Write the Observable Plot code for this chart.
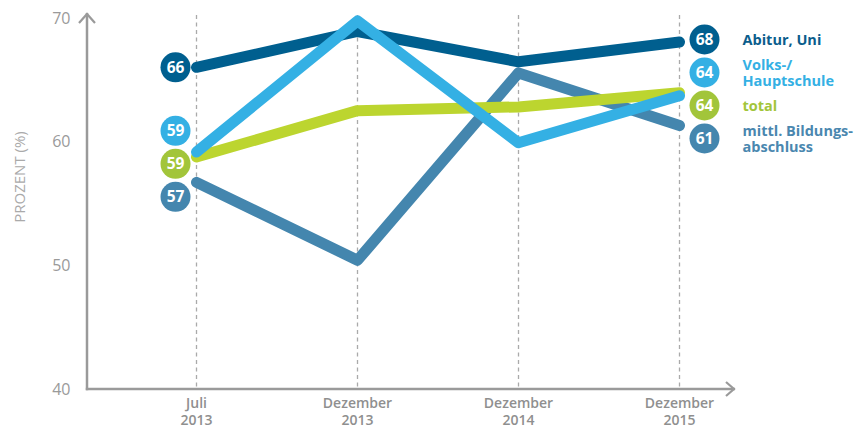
<!DOCTYPE html>
<html>
<head>
<meta charset="utf-8">
<script src="https://cdn.jsdelivr.net/npm/d3@7"></script>
<script src="https://cdn.jsdelivr.net/npm/@observablehq/plot@0.6"></script>
<style>
  html, body { margin: 0; padding: 0; background: #fff; }
  #chart svg { font-family: "Open Sans", sans-serif; overflow: visible; }
</style>
</head>
<body>
<div id="chart"></div>
<script>
// ---- data ----
const periods = ["Juli\n2013", "Dezember\n2013", "Dezember\n2014", "Dezember\n2015"];
const seriesNames = ["Abitur, Uni", "Volks-/\nHauptschule", "total", "mittl. Bildungs-\nabschluss"];
const abitur = [66.05, 68.95, 66.5, 68.1];
const volks  = [59.2, 69.8, 59.95, 63.75];
const total  = [58.8, 62.55, 62.85, 64.0];
const mittl  = [56.75, 50.45, 65.6, 61.35];
const startLabels = [66, 59, 59, 57];
const endLabels   = [68, 64, 64, 61];
const yTicks = [40, 50, 60, 70];
const yLabel = "PROZENT (%)";

// ---- styles ----
const lineColors   = ["#005f8f", "#34b0e4", "#bcd52f", "#4486ae"];
const circleColors = ["#005f8f", "#34b0e4", "#a2c53a", "#4486ae"];
const textColors   = ["#0b5d8c", "#34b0e4", "#a2c53a", "#4a87af"];

const W = 859, H = 430;
const M = {top: 18, right: 124, bottom: 41, left: 87};
const yDomain = [40, 70];

const seriesValues = [abitur, volks, total, mittl];
const rows = seriesValues.map((vals, s) => vals.map((v, i) => ({s, period: periods[i], value: v})));

// label dodging in pixel space, then back to data space
const yPix = d3.scaleLinear(yDomain, [H - M.bottom, M.top]);
function dodge(ys, gap) {
  const cl = [];
  ys.forEach((y, i) => {
    let c = {s: i, n: 1, sum: y, top: y};
    while (cl.length) {
      const p = cl[cl.length - 1];
      if (p.top + p.n * gap > c.top) {
        cl.pop();
        const n = p.n + c.n;
        const sum = p.sum + c.sum - c.n * p.n * gap;
        c = {s: p.s, n, sum, top: sum / n};
      } else break;
    }
    cl.push(c);
  });
  const out = new Array(ys.length);
  for (const c of cl) for (let k = 0; k < c.n; k++) out[c.s + k] = c.top + k * gap;
  return out;
}
const gap = 33;
const startPos = dodge(seriesValues.map(v => yPix(v[0])), gap).map(p => yPix.invert(p));
const endPos = dodge(seriesValues.map(v => yPix(v[v.length - 1])), gap).map(p => yPix.invert(p));
const startData = startLabels.map((t, s) => ({s, t, y: startPos[s], period: periods[0]}));
const endData = endLabels.map((t, s) => ({s, t, y: endPos[s], period: periods[periods.length - 1], name: seriesNames[s]}));

const drawOrder = [3, 2, 0, 1];
const axisColor = "#9a9a9a";

// axis lines with arrowheads from the frame dimensions
function axesMark(index, scales, values, dims) {
  const g = d3.create("svg:g").attr("fill", "none").attr("stroke", axisColor)
    .attr("stroke-width", 2.5).attr("stroke-linecap", "butt");
  const x0 = dims.marginLeft, y0 = dims.height - dims.marginBottom;
  const x1 = dims.width - dims.marginRight, yTop = dims.marginTop - 5;
  g.append("path").attr("d", `M${x0},${y0 + 1.2}V${yTop}`);
  g.append("path").attr("d", `M${x0 - 8},${yTop + 10}L${x0},${yTop + 1}L${x0 + 8},${yTop + 10}`).attr("stroke-width", 2.2);
  g.append("path").attr("d", `M${x0 - 1.2},${y0}H${x1}`);
  g.append("path").attr("d", `M${x1 - 9},${y0 - 7}L${x1 - 1},${y0}L${x1 - 9},${y0 + 7}`).attr("stroke-width", 2.2);
  return g.node();
}

// y-axis title: placed a little above the middle of the frame
const yLabelPos = yPix.invert((M.top + (H - M.bottom)) / 2 - 27);

const marks = [
  Plot.ruleX(periods, {x: d => d, stroke: "#aaaaaa", strokeWidth: 1.3, strokeDasharray: "4,3.5", insetTop: -3}),
  axesMark,
  Plot.text(yTicks, {y: d => d, text: d => String(d), frameAnchor: "left", dx: -17, textAnchor: "end",
    fontSize: 16, fill: "#9a9a9a"}),
  Plot.text([yLabel], {y: () => yLabelPos, text: d => d, frameAnchor: "left", rotate: -90, dx: -67,
    textAnchor: "middle", fontSize: 15, fill: "#aaaaaa", letterSpacing: "0.4px"}),
  Plot.text(periods, {x: d => d, text: d => d, frameAnchor: "bottom", lineAnchor: "top", dy: 7,
    fontSize: 14, fontWeight: 600, fill: "#8f8f8f", lineHeight: 1.2})
];
for (const s of drawOrder) {
  marks.push(Plot.line(rows[s], {x: "period", y: "value", stroke: lineColors[s], strokeWidth: 11,
    strokeLinecap: "round", strokeLinejoin: "round"}));
}
marks.push(
  Plot.dot(startData, {x: "period", y: "y", r: 15, fill: d => circleColors[d.s], dx: -21}),
  Plot.text(startData, {x: "period", y: "y", text: d => String(d.t), fill: "white", dx: -21, dy: 0.5,
    fontSize: 15.5, fontWeight: 700}),
  Plot.dot(endData, {x: "period", y: "y", r: 15, fill: d => circleColors[d.s], dx: 25}),
  Plot.text(endData, {x: "period", y: "y", text: d => String(d.t), fill: "white", dx: 25, dy: 0.5,
    fontSize: 15.5, fontWeight: 700}),
  Plot.text(endData, {x: "period", y: "y", text: "name", fill: d => textColors[d.s], dx: 63,
    textAnchor: "start", fontSize: 14.5, fontWeight: 700, lineHeight: 1.12})
);

const chart = Plot.plot({
  width: W,
  height: H,
  marginTop: M.top,
  marginRight: M.right,
  marginBottom: M.bottom,
  marginLeft: M.left,
  x: {type: "point", domain: periods, padding: 0.504, align: 0.663, axis: null},
  y: {domain: yDomain, axis: null},
  color: {type: "identity"},
  style: {background: "white", overflow: "visible"},
  marks
});
document.getElementById("chart").appendChild(chart);
</script>
</body>
</html>
